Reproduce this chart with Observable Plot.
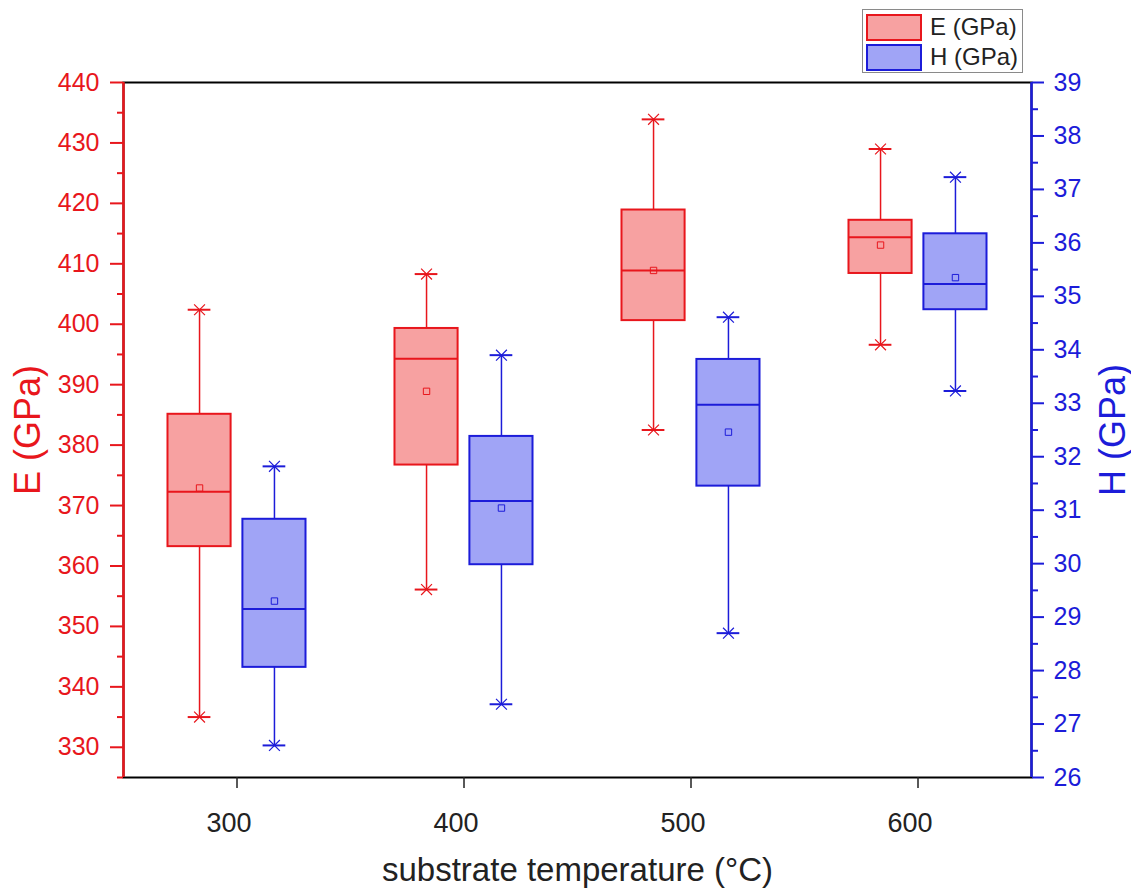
<!DOCTYPE html>
<html><head><meta charset="utf-8">
<script src="https://cdn.jsdelivr.net/npm/d3@7"></script>
<script src="https://cdn.jsdelivr.net/npm/@observablehq/plot@0.6"></script>
<style>
body{margin:0;background:#fff;font-family:"Liberation Sans",Arial,sans-serif;}
#wrap{position:relative;width:1131px;height:892px;}
#legend{position:absolute;left:862px;top:9px;width:161px;height:64px;border:1px solid #8a8a8a;background:#fff;box-sizing:border-box;}
.row{position:absolute;left:3px;height:28px;display:flex;align-items:center;}
.sw{width:56px;height:27px;box-sizing:border-box;border:2px solid;}
.lab{margin-left:8px;font-size:24px;color:#222;}
</style></head>
<body><div id="wrap"><div id="chart"></div>
<div id="legend">
 <div class="row" style="top:3px"><div class="sw" style="background:#f7a1a1;border-color:#e8161c"></div><span class="lab">E (GPa)</span></div>
 <div class="row" style="top:33px"><div class="sw" style="background:#a0a4f6;border-color:#1c1cd9"></div><span class="lab">H (GPa)</span></div>
</div></div>
<script>
const temps = [300, 400, 500, 600];
const E_min  = [335.0, 356.1, 382.5, 396.6];
const E_q1   = [363.2, 376.7, 400.6, 408.4];
const E_med  = [372.3, 394.3, 408.9, 414.4];
const E_mean = [372.9, 388.9, 408.9, 413.1];
const E_q3   = [385.1, 399.3, 418.9, 417.2];
const E_max  = [402.4, 408.3, 433.9, 429.0];
const H_min  = [26.60, 27.37, 28.70, 33.23];
const H_q1   = [28.06, 29.98, 31.45, 34.75];
const H_med  = [29.15, 31.17, 32.97, 35.23];
const H_mean = [29.30, 31.04, 32.46, 35.35];
const H_q3   = [30.83, 32.38, 33.82, 36.17];
const H_max  = [31.82, 33.90, 34.61, 37.23];
const E_ticks = [330, 340, 350, 360, 370, 380, 390, 400, 410, 420, 430, 440];
const H_ticks = [26, 27, 28, 29, 30, 31, 32, 33, 34, 35, 36, 37, 38, 39];

const red = "#e8161c", blue = "#1c1cd9";
const redFill = "#f7a1a1", blueFill = "#a0a4f6";
const xDomain = [250, 650];
const eDomain = [325, 440];
const hDomain = [26, 39];
const toE = h => eDomain[0] + (h - hDomain[0]) * (eDomain[1] - eDomain[0]) / (hDomain[1] - hDomain[0]);
const fromE = e => hDomain[0] + (e - eDomain[0]) * (hDomain[1] - hDomain[0]) / (eDomain[1] - eDomain[0]);

const off = 16.5, hw = 13.9, cap = 5;
const rows = [];
temps.forEach((t, i) => {
  rows.push({x: t - off, min: E_min[i], q1: E_q1[i], med: E_med[i], mean: E_mean[i], q3: E_q3[i], max: E_max[i], stroke: red, fill: redFill});
  rows.push({x: t + off, min: toE(H_min[i]), q1: toE(H_q1[i]), med: toE(H_med[i]), mean: toE(H_mean[i]), q3: toE(H_q3[i]), max: toE(H_max[i]), stroke: blue, fill: blueFill});
});
const caps = rows.flatMap(r => [{x: r.x, y: r.min, stroke: r.stroke}, {x: r.x, y: r.max, stroke: r.stroke}]);
const minorE = d3.range(eDomain[0], eDomain[1], 10);
const minorH = d3.range(hDomain[0] + 0.5, hDomain[1], 1).map(toE);

const chart = Plot.plot({
  width: 1131, height: 892,
  marginLeft: 123, marginRight: 100, marginTop: 82, marginBottom: 115,
  x: {domain: xDomain},
  y: {domain: eDomain},
  color: {type: "identity"},
  style: {fontFamily: "'Liberation Sans', Arial, sans-serif", background: "transparent", overflow: "visible"},
  marks: [
    Plot.frame({stroke: "black", strokeWidth: 2}),
    Plot.ruleX([xDomain[0]], {stroke: red, strokeWidth: 2.5}),
    Plot.ruleX([xDomain[1]], {stroke: blue, strokeWidth: 2.5}),
    Plot.axisX({ticks: temps, tickSize: 11, tickFormat: () => "", color: "#222", strokeWidth: 1.5, label: null}),
    Plot.axisX({ticks: temps, tickSize: 0, tickPadding: 35, fontSize: 27, dx: -8, color: "#222", label: null}),
    Plot.axisY({anchor: "left", ticks: E_ticks, tickSize: 13, tickPadding: 11, fontSize: 25, color: red, strokeWidth: 2, label: null}),
    Plot.axisY({anchor: "left", ticks: minorE, tickSize: 6, tickFormat: () => "", color: red, strokeWidth: 2, label: null}),
    Plot.axisY({anchor: "right", ticks: H_ticks.map(toE), tickFormat: e => String(Math.round(fromE(e))), tickSize: 12, tickPadding: 10, fontSize: 25, color: blue, strokeWidth: 2, label: null}),
    Plot.axisY({anchor: "right", ticks: minorH, tickSize: 6, tickFormat: () => "", color: blue, strokeWidth: 2, label: null}),
    Plot.ruleX(rows, {x: "x", y1: "min", y2: "max", stroke: "stroke", strokeWidth: 1.5}),
    Plot.rect(rows, {x1: d => d.x - hw, x2: d => d.x + hw, y1: "q1", y2: "q3", fill: "fill", stroke: "stroke", strokeWidth: 2}),
    Plot.ruleY(rows, {y: "med", x1: d => d.x - hw, x2: d => d.x + hw, stroke: "stroke", strokeWidth: 2}),
    Plot.dot(rows, {x: "x", y: "mean", symbol: "square", r: 3.6, stroke: "stroke", fill: "none", strokeWidth: 1}),
    Plot.ruleY(caps, {y: "y", x1: d => d.x - cap, x2: d => d.x + cap, stroke: "stroke", strokeWidth: 2}),
    Plot.dot(caps, {x: "x", y: "y", symbol: "times", r: 5, stroke: "stroke", strokeWidth: 1.2}),
    Plot.text(["E (GPa)"], {frameAnchor: "left", dx: -95, rotate: -90, textAnchor: "middle", lineAnchor: "middle", fontSize: 36, fill: red}),
    Plot.text(["H (GPa)"], {frameAnchor: "right", dx: 82, rotate: -90, textAnchor: "middle", lineAnchor: "middle", fontSize: 36, fill: blue}),
    Plot.text(["substrate temperature (°C)"], {frameAnchor: "bottom", dy: 93, textAnchor: "middle", lineAnchor: "middle", fontSize: 33, fill: "#222"})
  ]
});
document.getElementById("chart").appendChild(chart);
</script>
</body></html>
